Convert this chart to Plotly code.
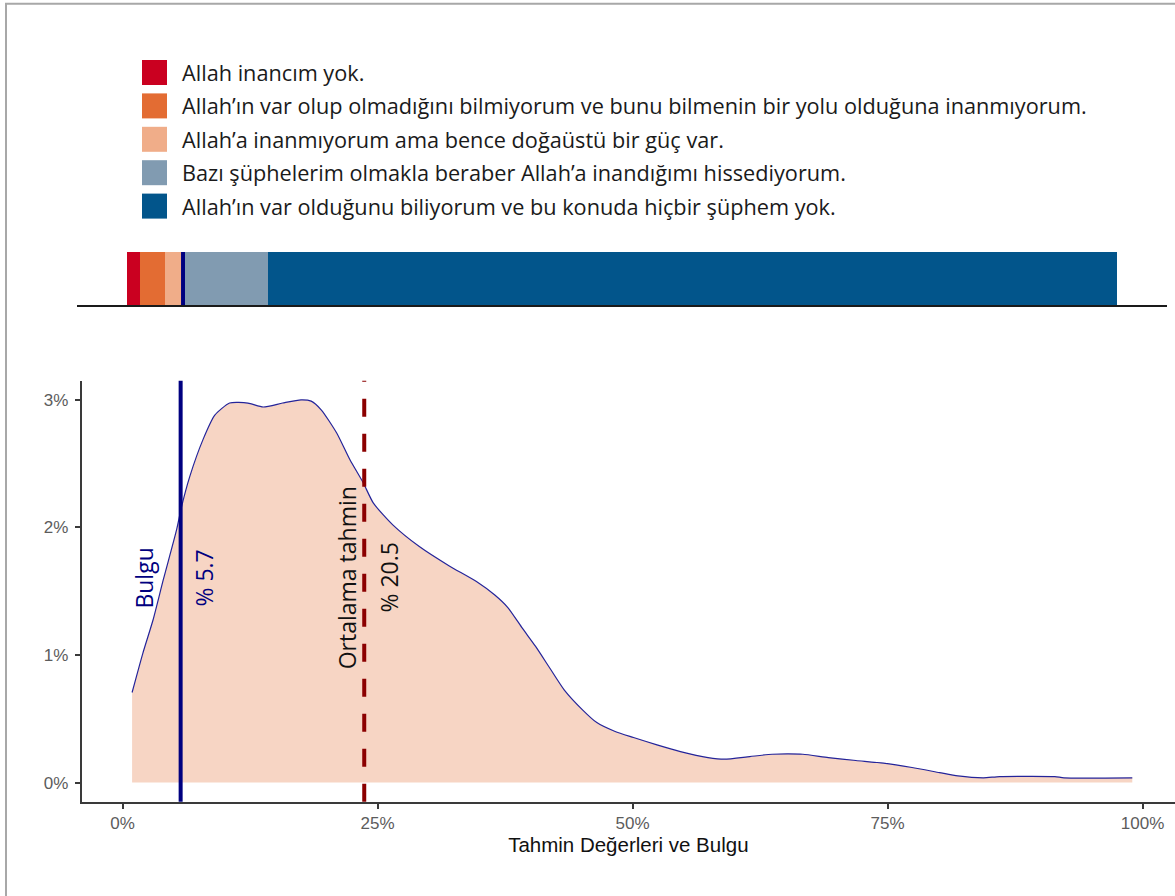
"""Density of guesses vs. survey finding, with stacked answer bar on top."""

import plotly.graph_objects as go

W, H = 1175, 896

# answer categories (top stacked bar)
categories = [
    "Allah inancım yok.",
    "Allah’ın var olup olmadığını bilmiyorum ve bunu bilmenin bir yolu olduğuna inanmıyorum.",
    "Allah’a inanmıyorum ama bence doğaüstü bir güç var.",
    "Bazı şüphelerim olmakla beraber Allah’a inandığımı hissediyorum.",
    "Allah’ın var olduğunu biliyorum ve bu konuda hiçbir şüphem yok.",
]
shares = [1.4, 2.5, 1.8, 8.6, 85.7]
colors = ["#CA0020", "#E36C33", "#F0AD89", "#819BB1", "#02558B"]

# density of guesses (x in %, y as fraction)
guess_x = [0.94, 2.0, 3.0, 4.0, 5.3, 5.8, 6.6, 7.9, 9.05, 10.5, 12.3, 13.8, 15.7,
           17.5, 18.5, 19.5, 21.0, 22.3, 23.6, 24.6, 26.5, 29.1, 32.0, 34.7, 36.5,
           37.8, 39.2, 40.5, 42.0, 43.3, 45.1, 46.5, 48.3, 50.1, 52.4, 54.7, 57.4,
           59.0, 61.5, 63.7, 65.3, 66.7, 69.2, 71.9, 74.6, 77.4, 80.1, 81.9, 84.4,
           86.0, 91.4, 92.3, 99.0]
guess_density = [0.00706, 0.01015, 0.01276, 0.0159, 0.0198, 0.02165, 0.0240,
                 0.0269, 0.0288, 0.02975, 0.02975, 0.02944, 0.02975, 0.0300,
                 0.0299, 0.0292, 0.0274, 0.0253, 0.0235, 0.0219, 0.0202, 0.0185,
                 0.0170, 0.01576, 0.0147, 0.0137, 0.0121, 0.01067, 0.00884,
                 0.00727, 0.0057, 0.0047, 0.0040, 0.00353, 0.00295, 0.00243,
                 0.00196, 0.00183, 0.00204, 0.00222, 0.00225, 0.00222, 0.00196,
                 0.00173, 0.00152, 0.00118, 0.00078, 0.00052, 0.00037, 0.00047,
                 0.00047, 0.00037, 0.00037]

finding = 5.7          # Bulgu
mean_guess_pos = 23.7  # where the dashed line sits
mean_guess_label = 20.5

x_ticks = [0, 25, 50, 75, 100]
x_tick_labels = ["0%", "25%", "50%", "75%", "100%"]
y_ticks = [0, 0.01, 0.02, 0.03]

NAVY = "#000080"
DARKRED = "#8B0000"


def px_x(p):
    return p / W


def px_y(p):
    return 1 - p / H


fig = go.Figure()

# density area
fig.add_trace(go.Scatter(
    x=guess_x, y=guess_density, mode="lines", fill="tozeroy",
    fillcolor="#F7D5C4", line=dict(color="#24249A", width=1.2, shape="spline", smoothing=0.6),
    showlegend=False, hoverinfo="skip", xaxis="x", yaxis="y",
))

# stacked answer bar
for cat, val, col in zip(categories, shares, colors):
    fig.add_trace(go.Bar(
        x=[val], y=[0.5], orientation="h", width=1, name=cat,
        marker=dict(color=col, line=dict(width=0)),
        showlegend=False, xaxis="x2", yaxis="y2",
    ))

shapes = [
    # finding line in bottom panel
    dict(type="line", xref="x", yref="y domain", x0=finding, x1=finding, y0=0, y1=1,
         line=dict(color=NAVY, width=4)),
    # mean guess dashed line (pattern starts from bottom)
    dict(type="line", xref="x", yref="y domain", x0=mean_guess_pos, x1=mean_guess_pos,
         y0=0, y1=1, line=dict(color=DARKRED, width=4, dash="18px,17px")),
    # finding marker on the bar
    dict(type="line", xref="x2", yref="y2 domain", x0=finding, x1=finding, y0=0, y1=1,
         line=dict(color=NAVY, width=4)),
    # outer frame
    dict(type="rect", xref="paper", yref="paper", x0=px_x(6), x1=1.02,
         y0=-0.02, y1=px_y(3.8), line=dict(color="#A8A8A8", width=2), layer="below"),
]

annotations = []
# manual legend
for i, (cat, col) in enumerate(zip(categories, colors)):
    cy = 72.5 + i * 33.4
    shapes.append(dict(type="rect", xref="paper", yref="paper",
                       x0=px_x(142), x1=px_x(167), y0=px_y(cy - 12.5), y1=px_y(cy + 12.5),
                       fillcolor=col, line=dict(width=0)))
    annotations.append(dict(xref="paper", yref="paper", x=px_x(180), y=px_y(cy),
                            text=cat, showarrow=False, xanchor="left", yanchor="middle",
                            font=dict(family="Open Sans", size=21.7, color="#1a1a1a")))

label_font = dict(family="Open Sans", size=23)
for txt, xpos, col in [
    ("Bulgu", 2.09, NAVY),
    ("% " + str(finding), 7.97, NAVY),
    ("Ortalama tahmin", 21.96, "#111111"),
    ("% " + str(mean_guess_label), 26.1, "#111111"),
]:
    annotations.append(dict(x=xpos, y=0.01605, xref="x", yref="y", text=txt,
                            textangle=-90, showarrow=False,
                            font=dict(label_font, color=col)))

axis_font = dict(family="Liberation Sans", size=17, color="#5c5c5c")

fig.update_layout(
    width=W, height=H,
    margin=dict(l=0, r=0, t=0, b=0),
    paper_bgcolor="white", plot_bgcolor="white",
    barmode="stack", bargap=0,
    shapes=shapes, annotations=annotations,
    xaxis=dict(
        domain=[px_x(81.7), 1.0], range=[-4.0, -4.0 + (W - 81.7) / 10.2],
        tickmode="array", tickvals=x_ticks, ticktext=x_tick_labels,
        showgrid=False, zeroline=False,
        showline=True, linecolor="#3a3a3a", linewidth=1.8,
        ticks="outside", ticklen=5, tickwidth=1.5, tickcolor="#3a3a3a",
        tickfont=axis_font,
        title=dict(text="Tahmin Değerleri ve Bulgu", standoff=3,
                   font=dict(family="Liberation Sans", size=20.5, color="#111111")),
        anchor="y",
    ),
    yaxis=dict(
        domain=[px_y(801.7), px_y(380.7)], range=[-0.0015, 0.0315],
        tickvals=y_ticks, tickformat=".0%", showgrid=False, zeroline=False,
        showline=True, linecolor="#3a3a3a", linewidth=1.8,
        ticks="outside", ticklen=5, tickwidth=1.5, tickcolor="#3a3a3a",
        ticklabelstandoff=3,
        tickfont=axis_font,
        anchor="x",
    ),
    xaxis2=dict(
        domain=[px_x(77), px_x(1167)], range=[-5, 105],
        showticklabels=False, showgrid=False, zeroline=False, ticks="",
        showline=True, linecolor="#1a1a1a", linewidth=1.6, anchor="y2",
    ),
    yaxis2=dict(
        domain=[px_y(305), px_y(252)], range=[0, 1],
        showticklabels=False, showgrid=False, zeroline=False, showline=False,
        anchor="x2",
    ),
)

# drop the browser's default body margin so the figure sits at the page origin
fig.write_html("out.html", config={"displayModeBar": False},
               post_script="document.body.style.margin='0';")
